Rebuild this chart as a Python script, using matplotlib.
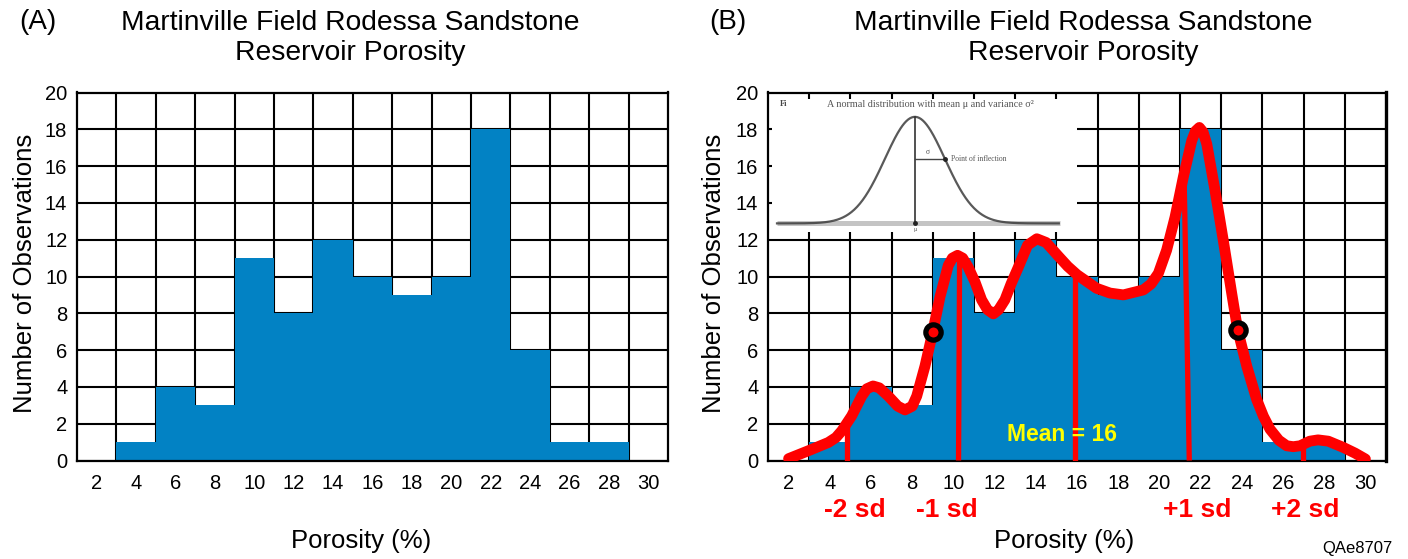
import numpy as np
import matplotlib
matplotlib.use("Agg")
import matplotlib.pyplot as plt

plt.rcParams['font.family'] = ['Liberation Sans', 'DejaVu Sans']

# Histogram data: porosity bin centres (%) and number of observations
bin_centers = [4, 6, 8, 10, 12, 14, 16, 18, 20, 22, 24, 26, 28]
counts = [1, 4, 3, 11, 8, 12, 10, 9, 10, 18, 6, 1, 1]
x_tick_labels = [str(v) for v in range(2, 31, 2)]
y_tick_labels = [str(v) for v in range(0, 21, 2)]

# Hand-traced frequency curve over the histogram (panel B)
curve_x = [2.0, 2.96, 3.93, 4.3, 4.58, 5.06, 5.55, 5.8, 6.1, 6.4, 6.84, 7.3, 7.65, 8.0,
           8.22, 8.62, 9.0, 9.35, 9.75, 9.95, 10.2, 10.45, 10.72, 11.05, 11.37, 11.65,
           11.94, 12.2, 12.5, 12.8, 13.15, 13.6, 14.05, 14.5, 15.1, 15.55, 16.0, 16.95,
           17.6, 18.25, 19.22, 19.6, 19.95, 20.35, 20.76, 21.16, 21.57, 21.75, 21.94,
           22.12, 22.3, 22.7, 23.1, 23.51, 23.8, 24.24, 24.72, 25.05, 25.37, 25.8, 26.18,
           26.5, 26.83, 27.3, 27.7, 28.2, 28.93, 29.5, 30.0]
curve_y = [0.1, 0.53, 0.98, 1.25, 1.61, 2.42, 3.5, 3.9, 4.05, 3.95, 3.5, 2.95, 2.75, 2.95,
           3.5, 5.13, 7.0, 8.9, 10.6, 11.0, 11.15, 11.0, 10.5, 9.7, 8.73, 8.2,
           7.97, 8.2, 8.73, 9.6, 10.5, 11.7, 12.05, 11.85, 11.1, 10.55, 10.1, 9.36,
           9.1, 9.0, 9.27, 9.6, 10.17, 11.43, 13.23, 15.4, 17.38, 17.9, 18.1,
           17.85, 17.2, 14.68, 11.97, 9.09, 7.1, 5.13, 3.32, 2.4, 1.7, 1.1, 0.8,
           0.75, 0.8, 1.05, 1.12, 1.05, 0.71, 0.4, 0.08]

# Mean and standard-deviation markers
sd_bottom_x = [4.85, 10.25, 15.9, 21.45, 26.97]
sd_top_x = [4.85, 10.3, 15.9, 21.2, 26.97]
sd_top_y = [2.3, 10.8, 10.1, 15.4, 0.85]
sd_labels = ['-2 sd', '-1 sd', '+1 sd', '+2 sd']
sd_label_x = [5.22, 9.69, 21.83, 27.1]
inflection_x = [9.0, 23.8]
inflection_y = [7.0, 7.1]
mean_value = 16

BLUE = '#0282C4'
RED = '#FF0000'

W, H = 1408, 559
fig = plt.figure(figsize=(W / 100, H / 100), dpi=100)


def px_rect(left, top, right, bottom):
    return [left / W, 1 - bottom / H, (right - left) / W, (bottom - top) / H]


def histogram_axes(rect):
    ax = fig.add_axes(rect)
    ax.bar(bin_centers, counts, width=2.0, color=BLUE, zorder=2, linewidth=0)
    ax.set_xlim(1, 31)
    ax.set_ylim(0, 20)
    ax.set_xticks(range(2, 31, 2))
    ax.set_xticklabels(x_tick_labels)
    ax.set_xticks(range(3, 30, 2), minor=True)
    ax.set_yticks(range(0, 21, 2))
    ax.set_yticklabels(y_tick_labels)
    ax.set_axisbelow(True)
    ax.grid(which='minor', axis='x', color='black', linewidth=1.5, zorder=1)
    ax.grid(which='major', axis='y', color='black', linewidth=1.5, zorder=1)
    ax.tick_params(which='both', length=0, labelsize=14.5)
    ax.tick_params(axis='x', pad=10)
    ax.tick_params(axis='y', pad=7)
    for s in ax.spines.values():
        s.set_linewidth(1.6)
        s.set_color('black')
        s.set_zorder(3)
    return ax


ax_a = histogram_axes(px_rect(77, 92.5, 668, 460.5))
ax_b = histogram_axes(px_rect(768, 92.5, 1386, 460.5))
ax_b.spines['right'].set_linewidth(2.4)

title = "Martinville Field Rodessa Sandstone\nReservoir Porosity"
for cx, tag, tx, xl, yl in [(350, '(A)', 38, 361, 25), (1083, '(B)', 728, 1064, 714)]:
    fig.text(cx / W, 1 - 38.5 / H, title, ha='center', va='center', fontsize=20.3,
             linespacing=1.2)
    fig.text(tx / W, 1 - 22 / H, tag, ha='center', va='center', fontsize=20)
    fig.text(xl / W, 1 - 541 / H, 'Porosity (%)', ha='center', va='center', fontsize=18.5)
    fig.text(yl / W, 1 - 273 / H, 'Number of Observations', ha='center', va='center',
             fontsize=18.5, rotation=90)

# Frequency curve, sd lines and inflection points
ax_b.plot(curve_x, curve_y, color=RED, linewidth=7.8, solid_joinstyle='round',
          solid_capstyle='round', zorder=10)
for xb, xt, yt in zip(sd_bottom_x, sd_top_x, sd_top_y):
    ax_b.plot([xb, xt], [0, yt], color=RED, linewidth=3.8, zorder=9,
              solid_capstyle='butt')
ax_b.plot(inflection_x, inflection_y, linestyle='none', marker='o', markersize=11,
          markerfacecolor=RED, markeredgecolor='black', markeredgewidth=3.8, zorder=11)
ax_b.text(15.27, 1.43, f'Mean = {mean_value}', color='#FFFF00', fontsize=16.5,
          fontweight='bold', ha='center', va='center', zorder=12)
for lx, lab in zip(sd_label_x, sd_labels):
    ax_b.text(lx, -2.68, lab, color=RED, fontsize=19, fontweight='bold',
              ha='center', va='center', clip_on=False)
fig.text(1357 / W, 1 - 549 / H, 'QAe8707', ha='center', va='center', fontsize=12)

# Inset: textbook sketch of a normal distribution
ins = ax_b.inset_axes([1.19, 12.4, 14.8, 7.25], transform=ax_b.transData, zorder=5)
ins.set_facecolor('white')
for s in ins.spines.values():
    s.set_visible(False)
ins.set_xticks([])
ins.set_yticks([])
ins.set_xlim(-4.77, 5.4)
ins.set_ylim(-0.084, 1.168)
inset_mu, inset_sigma = 0.0, 1.0
z = np.linspace(-4.6, 4.8, 300)
bell = np.exp(-0.5 * ((z - inset_mu) / inset_sigma) ** 2)
ins.plot([-4.6, 4.83], [0, 0], color='#c4c4c4', linewidth=3.6, solid_capstyle='butt')
ins.plot(z, bell, color='#3c3c3c', linewidth=1.6, alpha=0.85)
ins.plot([inset_mu, inset_mu], [0, 1.0], color='#333333', linewidth=1.2)
y_inf = np.exp(-0.5)
ins.plot([inset_mu, inset_mu + inset_sigma], [y_inf, y_inf], color='#444444', linewidth=1.0)
ins.plot([inset_mu + inset_sigma], [y_inf], marker='o', markersize=2.5, color='#222222')
ins.plot([inset_mu], [0], marker='o', markersize=2.5, color='#222222')
serif = ['Liberation Serif', 'DejaVu Serif']
ins.text(-4.5, 1.12, 'Fi', fontsize=6, family=serif, color='#444444', va='center',
         fontweight='bold')
ins.text(0.53, 1.12, 'A normal distribution with mean \u03bc and variance \u03c3\u00b2',
         fontsize=7.3, family=serif, color='#555555', ha='center', va='center')
ins.text(0.43, y_inf + 0.06, '\u03c3', fontsize=5.5, family=serif, color='#555555',
         ha='center', va='center')
ins.text(1.2, y_inf, 'Point of inflection', fontsize=5.5, family=serif, color='#555555',
         ha='left', va='center')
ins.text(0.0, -0.06, '\u03bc', fontsize=4.5, family=serif, color='#555555',
         ha='center', va='center')

fig.savefig('out.png', dpi=100)
